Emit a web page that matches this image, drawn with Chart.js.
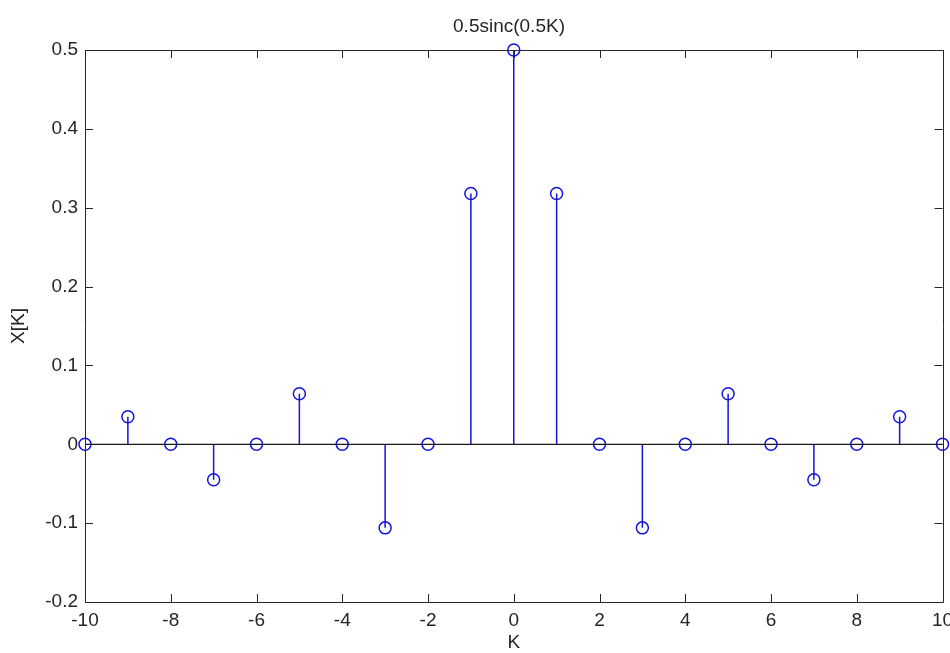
<!DOCTYPE html>
<html>
<head>
<meta charset="utf-8">
<script src="https://cdn.jsdelivr.net/npm/chart.js@4/dist/chart.umd.min.js"></script>
<style>
  html, body { margin: 0; padding: 0; background: #fff; }
  canvas { display: block; }
</style>
</head>
<body>
<canvas id="myChart" width="950" height="653"></canvas>
<script>
// data
const kValues = [-10, -9, -8, -7, -6, -5, -4, -3, -2, -1, 0, 1, 2, 3, 4, 5, 6, 7, 8, 9, 10];
const xValues = [0, 0.035, 0, -0.045, 0, 0.064, 0, -0.106, 0, 0.318, 0.5, 0.318, 0, -0.106, 0, 0.064, 0, -0.045, 0, 0.035, 0];
const xTicks = [-10, -8, -6, -4, -2, 0, 2, 4, 6, 8, 10];
const yTicks = [-0.2, -0.1, 0, 0.1, 0.2, 0.3, 0.4, 0.5];
const titleText = '0.5sinc(0.5K)';

const stemBlue = '#1414dc';
const axisColor = '#262626';
const fontFamily = '"Liberation Sans", Arial, sans-serif';

// stems: (k,0) -> (k,v), then a gap
var stemPoints = [];
kValues.forEach(function(k, i) {
  stemPoints.push({x: k, y: 0});
  stemPoints.push({x: k, y: xValues[i]});
  stemPoints.push({x: k, y: null});
});
var markerPoints = kValues.map(function(k, i) { return {x: k, y: xValues[i]}; });
var basePoints = [{x: kValues[0], y: 0}, {x: kValues[kValues.length - 1], y: 0}];

// box + inward ticks like matlab, plus the title
var frame = {
  id: 'frame',
  beforeDatasetsDraw: function(chart) {
    var c = chart.ctx, a = chart.chartArea;
    var sx = chart.scales.x, sy = chart.scales.y;
    var tl = 8;
    c.save();
    c.strokeStyle = axisColor;
    c.lineWidth = 1;
    c.beginPath();
    c.rect(Math.round(a.left) + 0.5, Math.round(a.top) + 0.5, Math.round(a.right - a.left), Math.round(a.bottom - a.top));
    xTicks.forEach(function(t) {
      var px = Math.round(sx.getPixelForValue(t)) + 0.5;
      c.moveTo(px, a.bottom); c.lineTo(px, a.bottom - tl);
      c.moveTo(px, a.top); c.lineTo(px, a.top + tl);
    });
    yTicks.forEach(function(t) {
      var py = Math.round(sy.getPixelForValue(t)) + 0.5;
      c.moveTo(a.left, py); c.lineTo(a.left + tl, py);
      c.moveTo(a.right, py); c.lineTo(a.right - tl, py);
    });
    c.stroke();
    c.fillStyle = axisColor;
    c.font = '19px ' + fontFamily;
    c.textAlign = 'center';
    c.textBaseline = 'middle';
    c.fillText(titleText, 509, 27);
    c.restore();
  }
};

const ctx = document.getElementById('myChart');

new Chart(ctx, {
  type: 'scatter',
  data: {
    datasets: [
      {
        label: 'baseline',
        data: basePoints,
        showLine: true,
        borderColor: '#1a1a1a',
        borderWidth: 1.3,
        pointRadius: 0,
        clip: false
      },
      {
        label: 'stems',
        data: stemPoints,
        showLine: true,
        spanGaps: false,
        borderColor: stemBlue,
        borderWidth: 1.5,
        pointRadius: 0,
        clip: false
      },
      {
        label: 'X[K]',
        data: markerPoints,
        pointStyle: 'circle',
        pointRadius: 6,
        pointBorderWidth: 1.5,
        borderColor: stemBlue,
        backgroundColor: 'rgba(0,0,0,0)',
        clip: false
      }
    ]
  },
  options: {
    responsive: false,
    animation: false,
    layout: { padding: { top: 50, right: 7, left: 0, bottom: 0 } },
    plugins: {
      legend: { display: false },
      tooltip: { enabled: false }
    },
    scales: {
      x: {
        type: 'linear',
        min: -10,
        max: 10,
        afterBuildTicks: function(s) { s.ticks = xTicks.map(function(v) { return {value: v}; }); },
        afterFit: function(s) { s.height = 51; s.paddingLeft = 0; s.paddingRight = 0; },
        grid: { display: false, drawTicks: false },
        border: { display: false },
        ticks: {
          autoSkip: false,
          maxRotation: 0,
          padding: 7,
          color: axisColor,
          font: { family: fontFamily, size: 19 }
        },
        title: {
          display: true,
          text: 'K',
          color: axisColor,
          padding: { top: 0, bottom: 0 },
          font: { family: fontFamily, size: 19, lineHeight: 1.1 }
        }
      },
      y: {
        type: 'linear',
        min: -0.2,
        max: 0.5,
        afterBuildTicks: function(s) { s.ticks = yTicks.map(function(v) { return {value: v}; }); },
        afterFit: function(s) { s.width = 85; s.paddingTop = 0; s.paddingBottom = 0; },
        grid: { display: false, drawTicks: false },
        border: { display: false },
        ticks: {
          autoSkip: false,
          padding: 7,
          color: axisColor,
          font: { family: fontFamily, size: 19 },
          callback: function(v) { return String(Math.round(v * 10) / 10); }
        },
        title: {
          display: true,
          text: 'X[K]',
          color: axisColor,
          padding: { top: 7, bottom: 0 },
          font: { family: fontFamily, size: 19, lineHeight: 1.2 }
        }
      }
    }
  },
  plugins: [frame]
});
</script>
</body>
</html>
